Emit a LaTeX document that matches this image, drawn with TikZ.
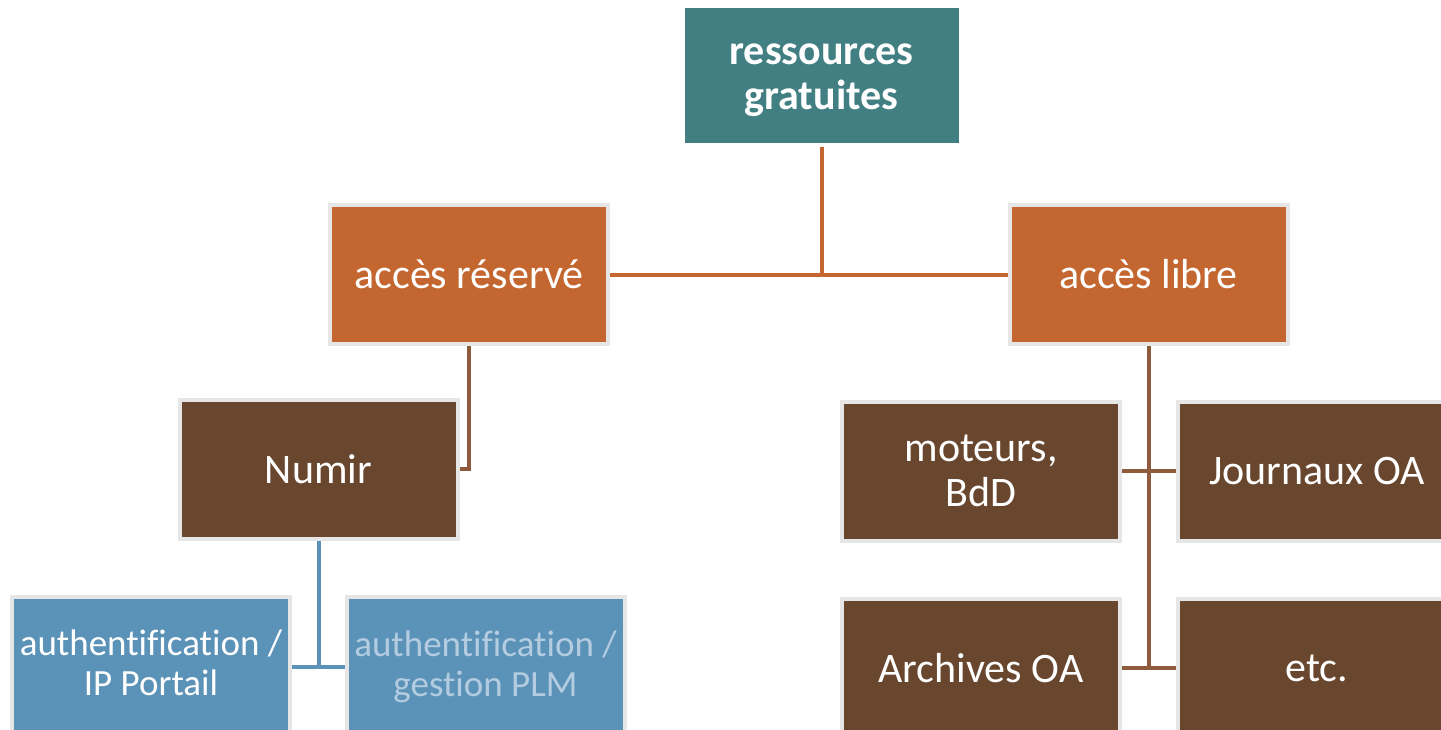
\documentclass[tikz,border=0pt]{standalone}
\usepackage{fontspec}
\setmainfont{Carlito}[Ligatures=CommonOff]
\usetikzlibrary{backgrounds}
\definecolor{teal1}{HTML}{417F82}
\definecolor{orange1}{HTML}{C4662F}
\definecolor{brown1}{HTML}{68472E}
\definecolor{blue1}{HTML}{5B92B8}
\definecolor{lblue}{HTML}{B4CCE0}
\definecolor{bord}{HTML}{E6E6E6}
\definecolor{brline}{HTML}{8E5B3D}
\begin{document}
\begin{tikzpicture}[x=1pt,y=-1pt,
  box/.style={draw=bord,line width=4pt,minimum width=278pt,minimum height=139pt,inner sep=0pt,align=center,text=white,font=\fontsize{42}{45}\selectfont},
  topbox/.style={box,fill=teal1,draw=white,font=\fontsize{42}{45}\selectfont\bfseries},
  orbox/.style={box,fill=orange1},
  brbox/.style={box,fill=brown1},
  blbox/.style={box,fill=blue1,font=\fontsize{37}{40}\selectfont},
  conn/.style={line width=4pt},
]
\useasboundingbox (0,0) rectangle (1441,729);
\node[topbox] (top) at (821.5,75) {\rule{0pt}{32pt}ressources\\gratuites};
\node[orbox] (res) at (469,274.5) {accès réservé};
\node[orbox] (lib) at (1148.5,274.5) {accès libre};
\node[brbox] (num) at (318.5,469) {Numir};
\node[blbox] (authA) at (151,666.5) {authentification /\\IP Portail\rule[-8pt]{0pt}{8pt}};
\node[blbox,text=lblue] (authB) at (485.5,666.5) {authentification /\\gestion PLM};
\node[brbox] (mot) at (981,471) {moteurs,\\BdD};
\node[brbox] (jou) at (1317,471) {Journaux OA};
\node[brbox] (arc) at (981,668) {Archives OA};
\node[brbox] (etc) at (1317,668) {etc.};
\coordinate (j1) at (top.south |- res.east);
\coordinate (j2) at (res.south |- num.east);
\coordinate (j3) at (num.south |- authA.east);
\coordinate (j4) at (lib.south |- arc.east);
\begin{scope}[on background layer]
\draw[conn,orange1] (top.south) -- (j1);
\draw[conn,orange1] (res.east) -- (lib.west);
\draw[conn,brline] (res.south) -- (j2) -- (num.east);
\draw[conn,blue1] (num.south) -- (j3);
\draw[conn,blue1] (authA.east) -- (authB.west);
\draw[conn,brline] (lib.south) -- (j4);
\draw[conn,brline] (mot.east) -- (jou.west);
\draw[conn,brline] (arc.east) -- (etc.west);
\end{scope}
\end{tikzpicture}
\end{document}
